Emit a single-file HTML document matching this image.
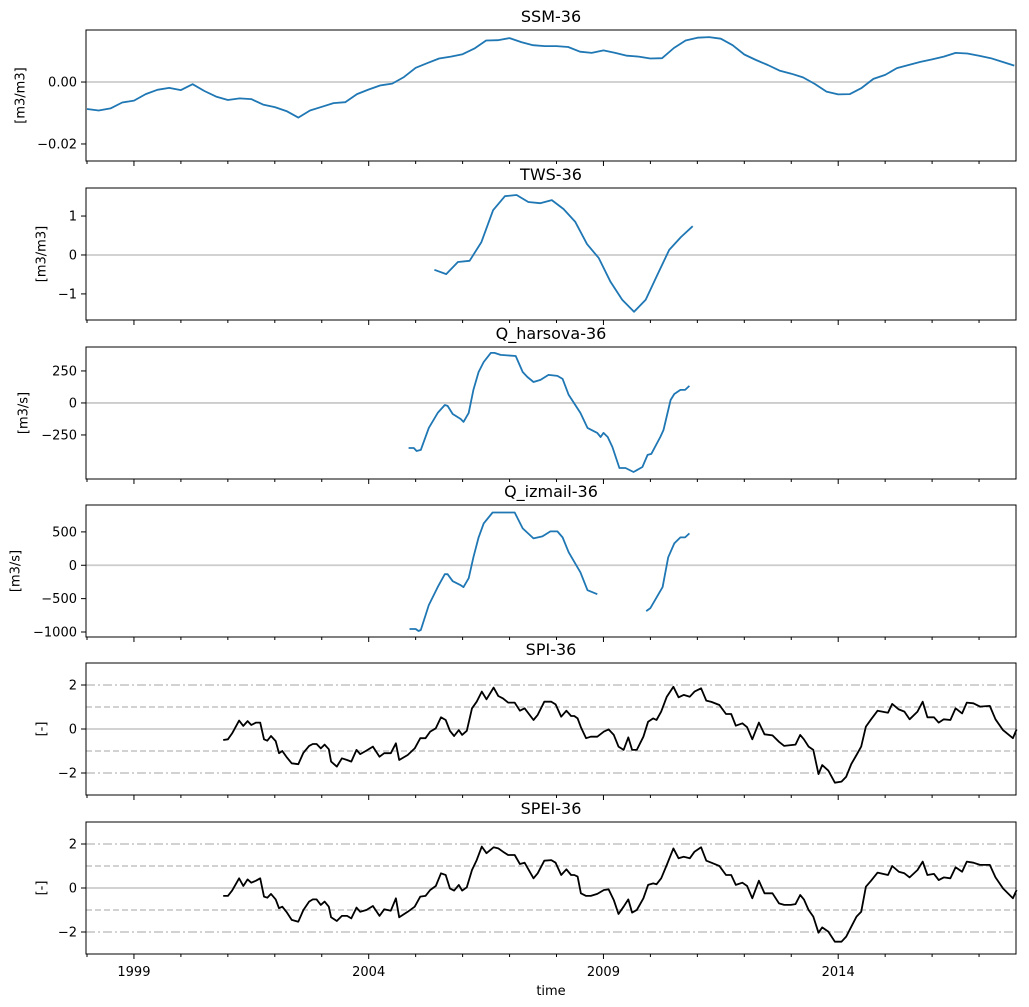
<!DOCTYPE html>
<html><head><meta charset="utf-8"><style>
body{margin:0;background:#fff}
svg{display:block;font-family:"DejaVu Sans","Liberation Sans",sans-serif}
</style></head><body>
<svg id="chart" width="1029" height="1007" viewBox="0 0 1029 1007" xmlns="http://www.w3.org/2000/svg"></svg>
<script>
// ---- data ----
const ssmStart = 1998, ssmStep = 0.25;
const ssmValues = [-8.7,-9.2,-8.5,-6.6,-6.0,-3.9,-2.5,-1.9,-2.6,-0.7,-2.9,-4.7,-5.8,-5.3,-5.5,-7.3,-8.1,-9.4,-11.5,-9.2,-8.0,-6.8,-6.5,-3.9,-2.4,-1.1,-0.5,1.6,4.6,6.1,7.6,8.2,9.0,10.8,13.4,13.5,14.2,12.9,11.9,11.6,11.6,11.3,9.8,9.4,10.2,9.4,8.5,8.2,7.6,7.7,11.0,13.4,14.3,14.5,14.0,11.9,8.9,7.1,5.5,3.7,2.7,1.5,-0.6,-3.1,-4.0,-3.9,-1.9,1.0,2.3,4.5,5.5,6.5,7.3,8.2,9.4,9.2,8.5,7.7,6.5,5.3]; // x1e-3
const twsStart = 2005.4, twsStep = 0.25;
const twsValues = [-0.38,-0.49,-0.18,-0.15,0.33,1.15,1.51,1.54,1.36,1.33,1.41,1.18,0.85,0.28,-0.08,-0.69,-1.15,-1.46,-1.15,-0.51,0.13,0.46,0.74];
const harsovaDates = [2004.85,2004.96,2005.02,2005.11,2005.28,2005.47,2005.62,2005.68,2005.79,2005.96,2006.02,2006.13,2006.23,2006.34,2006.45,2006.60,2006.68,2006.81,2007.13,2007.28,2007.38,2007.51,2007.66,2007.83,2008.02,2008.13,2008.26,2008.51,2008.66,2008.87,2008.94,2009.00,2009.09,2009.19,2009.34,2009.47,2009.64,2009.83,2009.94,2010.02,2010.21,2010.28,2010.43,2010.51,2010.64,2010.74,2010.83];
const harsovaValues = [-352,-352,-375,-367,-195,-78,-16,-23,-86,-125,-148,-78,102,242,320,391,391,375,367,242,203,164,180,219,211,188,63,-78,-195,-234,-266,-234,-266,-344,-508,-508,-539,-500,-406,-398,-266,-211,23,70,102,102,133];
const izmailDates = [2004.87,2005.00,2005.06,2005.11,2005.28,2005.47,2005.62,2005.68,2005.79,2005.96,2006.02,2006.13,2006.23,2006.34,2006.45,2006.64,2006.74,2007.11,2007.28,2007.51,2007.70,2007.87,2008.02,2008.13,2008.26,2008.51,2008.66,2008.87,2009.4,2009.91,2010.00,2010.26,2010.38,2010.51,2010.64,2010.74,2010.83];
const izmailValues = [-955,-955,-985,-970,-597,-328,-134,-134,-239,-299,-328,-194,119,418,627,791,791,791,552,403,433,508,508,418,194,-105,-373,-433,null,-687,-642,-328,119,328,418,418,478];
const spiDates = [2000.90,2001.00,2001.09,2001.24,2001.33,2001.42,2001.50,2001.60,2001.69,2001.77,2001.84,2001.92,2002.02,2002.09,2002.16,2002.26,2002.36,2002.50,2002.61,2002.73,2002.81,2002.89,2002.98,2003.06,2003.15,2003.20,2003.32,2003.43,2003.54,2003.63,2003.74,2003.82,2003.95,2004.09,2004.23,2004.33,2004.47,2004.58,2004.65,2004.83,2004.98,2005.10,2005.21,2005.31,2005.43,2005.54,2005.64,2005.73,2005.82,2005.92,2005.99,2006.09,2006.20,2006.30,2006.41,2006.51,2006.66,2006.76,2006.86,2006.97,2007.11,2007.22,2007.32,2007.51,2007.60,2007.74,2007.89,2007.98,2008.10,2008.21,2008.31,2008.38,2008.45,2008.52,2008.63,2008.73,2008.87,2009.01,2009.11,2009.22,2009.32,2009.43,2009.53,2009.61,2009.71,2009.85,2009.95,2010.06,2010.13,2010.23,2010.35,2010.49,2010.60,2010.71,2010.84,2010.94,2011.08,2011.19,2011.30,2011.47,2011.61,2011.72,2011.82,2011.96,2012.06,2012.17,2012.31,2012.43,2012.60,2012.74,2012.85,2012.99,2013.09,2013.19,2013.27,2013.37,2013.47,2013.58,2013.66,2013.79,2013.93,2014.07,2014.17,2014.28,2014.39,2014.49,2014.59,2014.70,2014.84,2015.06,2015.15,2015.29,2015.41,2015.52,2015.69,2015.80,2015.90,2016.04,2016.14,2016.25,2016.39,2016.50,2016.64,2016.74,2016.88,2017.02,2017.23,2017.35,2017.51,2017.72,2017.80];
const spiValues = [-0.50,-0.47,-0.2,0.38,0.14,0.36,0.18,0.29,0.29,-0.47,-0.53,-0.32,-0.55,-1.1,-1.0,-1.3,-1.56,-1.6,-1.08,-0.77,-0.68,-0.68,-0.88,-0.71,-0.92,-1.48,-1.71,-1.33,-1.41,-1.48,-0.95,-1.14,-0.98,-0.8,-1.26,-1.1,-1.1,-0.65,-1.41,-1.18,-0.88,-0.42,-0.42,-0.12,0.03,0.53,0.41,-0.08,-0.32,-0.05,-0.27,-0.08,0.94,1.24,1.7,1.35,1.88,1.5,1.39,1.2,1.2,0.83,0.94,0.41,0.64,1.24,1.24,1.12,0.56,0.83,0.59,0.59,0.48,0.08,-0.42,-0.35,-0.35,-0.12,-0.02,-0.27,-0.8,-0.95,-0.38,-0.95,-0.95,-0.35,0.33,0.48,0.41,0.79,1.47,1.92,1.44,1.55,1.47,1.7,1.85,1.29,1.23,1.09,0.68,0.68,0.15,0.26,0.08,-0.47,0.29,-0.24,-0.29,-0.58,-0.77,-0.73,-0.71,-0.27,-0.47,-0.8,-0.95,-2.05,-1.64,-1.89,-2.44,-2.39,-2.17,-1.59,-1.18,-0.8,0.11,0.44,0.83,0.74,1.14,0.89,0.79,0.44,0.79,1.24,0.53,0.53,0.29,0.44,0.41,0.94,0.71,1.2,1.17,1.02,1.05,0.44,-0.05,-0.42,-0.02];
const speiValues = [-0.36,-0.36,-0.12,0.44,0.09,0.39,0.24,0.33,0.44,-0.39,-0.44,-0.27,-0.52,-0.92,-0.85,-1.12,-1.45,-1.53,-1.0,-0.62,-0.52,-0.52,-0.77,-0.62,-0.85,-1.33,-1.5,-1.27,-1.27,-1.38,-0.89,-1.08,-1.0,-0.82,-1.27,-0.97,-1.03,-0.47,-1.33,-1.08,-0.85,-0.39,-0.36,-0.09,0.09,0.67,0.59,-0.02,-0.12,0.14,-0.12,0.03,0.82,1.27,1.88,1.58,1.85,1.8,1.65,1.5,1.5,1.09,1.15,0.44,0.67,1.24,1.27,1.15,0.59,0.85,0.59,0.59,0.52,-0.24,-0.36,-0.36,-0.27,-0.09,-0.06,-0.55,-1.18,-0.85,-0.52,-1.12,-1.0,-0.47,0.14,0.21,0.17,0.44,1.05,1.8,1.35,1.42,1.35,1.65,1.85,1.24,1.15,1.0,0.59,0.59,0.14,0.24,0.09,-0.47,0.33,-0.24,-0.24,-0.7,-0.77,-0.77,-0.73,-0.32,-0.52,-1.0,-1.3,-2.03,-1.79,-1.98,-2.44,-2.44,-2.21,-1.76,-1.3,-1.08,0.06,0.33,0.7,0.59,1.0,0.74,0.67,0.48,0.82,1.2,0.59,0.64,0.36,0.48,0.44,0.94,0.74,1.2,1.15,1.05,1.05,0.48,-0.02,-0.47,-0.09];
const majorYears = [1999,2004,2009,2014];
const xMin = 1998 - 0.0213, xMax = 2017.787;

// ---- layout ----
const svg = document.getElementById('chart');
const NS = 'http://www.w3.org/2000/svg';
const L = 86, R = 1016;
const X = y => L + (y - xMin) / (xMax - xMin) * (R - L);
function mk(tag, attrs, parent) {
  const e = document.createElementNS(NS, tag);
  for (const k in attrs) e.setAttribute(k, attrs[k]);
  (parent || svg).appendChild(e);
  return e;
}
const panels = [
  {title:'SSM-36', top:30, bot:161, ymin:-25.5, ymax:16.8, ticks:[0,-20], tl:['0.00','\u22120.02'], yl:'[m3/m3]', ylx:21, name:'ssm'},
  {title:'TWS-36', top:188, bot:320, ymin:-1.67, ymax:1.72, ticks:[1,0,-1], tl:['1','0','\u22121'], yl:'[m3/m3]', ylx:42, name:'tws'},
  {title:'Q_harsova-36', top:347, bot:479, ymin:-594, ymax:437, ticks:[250,0,-250], tl:['250','0','\u2212250'], yl:'[m3/s]', ylx:24, name:'q-harsova'},
  {title:'Q_izmail-36', top:505, bot:637, ymin:-1075, ymax:903, ticks:[500,0,-500,-1000], tl:['500','0','\u2212500','\u22121000'], yl:'[m3/s]', ylx:16, name:'q-izmail'},
  {title:'SPI-36', top:663, bot:795, ymin:-3, ymax:3, ticks:[2,0,-2], tl:['2','0','\u22122'], yl:'[-]', ylx:42, name:'spi', idx:true},
  {title:'SPEI-36', top:822, bot:954, ymin:-3, ymax:3, ticks:[2,0,-2], tl:['2','0','\u22122'], yl:'[-]', ylx:42, name:'spei', idx:true}
];
const series = [
  {d: ssmValues.map((_, i) => ssmStart + i * ssmStep), v: ssmValues, c:'#1f77b4'},
  {d: twsValues.map((_, i) => twsStart + i * twsStep), v: twsValues, c:'#1f77b4'},
  {d: harsovaDates, v: harsovaValues, c:'#1f77b4'},
  {d: izmailDates, v: izmailValues, c:'#1f77b4'},
  {d: spiDates, v: spiValues, c:'#000'},
  {d: spiDates, v: speiValues, c:'#000'}
];

panels.forEach((p, pi) => {
  const g = mk('g', {});
  
  
  const Y = v => p.bot - (v - p.ymin) / (p.ymax - p.ymin) * (p.bot - p.top);
  const z = mk('line', {x1:L, x2:R, y1:Y(0), y2:Y(0), stroke:'#cccccc', 'stroke-width':1.8}, g);
  
  
  if (p.idx) {
    [[1,'6,3'],[-1,'6,3'],[2,'9,3,2,3'],[-2,'9,3,2,3']].forEach(([v, da]) => {
      const l = mk('line', {x1:L, x2:R, y1:Y(v), y2:Y(v), stroke:'#cccccc', 'stroke-width':1.8, 'stroke-dasharray':da}, g);
      
      
    });
  }
  const s = series[pi];
  let dstr = '', pen = false;
  s.d.forEach((t, i) => {
    const v = s.v[i];
    if (v === null) { pen = false; return; }
    dstr += (pen ? 'L' : 'M') + X(t).toFixed(1) + ' ' + Y(v).toFixed(1);
    pen = true;
  });
  const path = mk('path', {d:dstr, fill:'none', stroke:s.c, 'stroke-width':1.8, 'stroke-linejoin':'round'}, g);
  
  
  const fr = mk('rect', {x:L, y:p.top, width:R - L, height:p.bot - p.top, fill:'none', stroke:'#000', 'stroke-width':1}, g);
  
  
  p.ticks.forEach((tv, ti) => {
    const y = Y(tv);
    mk('line', {x1:L - 5, x2:L, y1:y, y2:y, stroke:'#000', 'stroke-width':1}, g);
    const tx = mk('text', {x:L - 9, y:y + 4.5, 'font-size':13, 'text-anchor':'end', fill:'#000'}, g);
    tx.textContent = p.tl[ti];
    
    
  });
  for (let yr = 1998; yr <= 2017; yr++) {
    const maj = majorYears.includes(yr);
    mk('line', {x1:X(yr), x2:X(yr), y1:p.bot, y2:p.bot + (maj ? 5 : 3), stroke:'#000', 'stroke-width':1}, g);
  }
  const tt = mk('text', {x:(L + R) / 2, y:p.top - 8, 'font-size':16, 'text-anchor':'middle', fill:'#000'}, g);
  tt.textContent = p.title;
  
  
  const cy = (p.top + p.bot) / 2;
  const yl = mk('text', {x:p.ylx, y:cy, 'font-size':13, 'text-anchor':'middle', 'dominant-baseline':'central', fill:'#000', transform:'rotate(-90 ' + p.ylx + ' ' + cy + ')'}, g);
  yl.textContent = p.yl;
  
  
});
majorYears.forEach(yr => {
  const t = mk('text', {x:X(yr), y:976, 'font-size':13, 'text-anchor':'middle', fill:'#000'});
  t.textContent = String(yr);
  
  
});
const xt = mk('text', {x:(L + R) / 2, y:995, 'font-size':13, 'text-anchor':'middle', fill:'#000'});
xt.textContent = 'time';


</script>
</body></html>
